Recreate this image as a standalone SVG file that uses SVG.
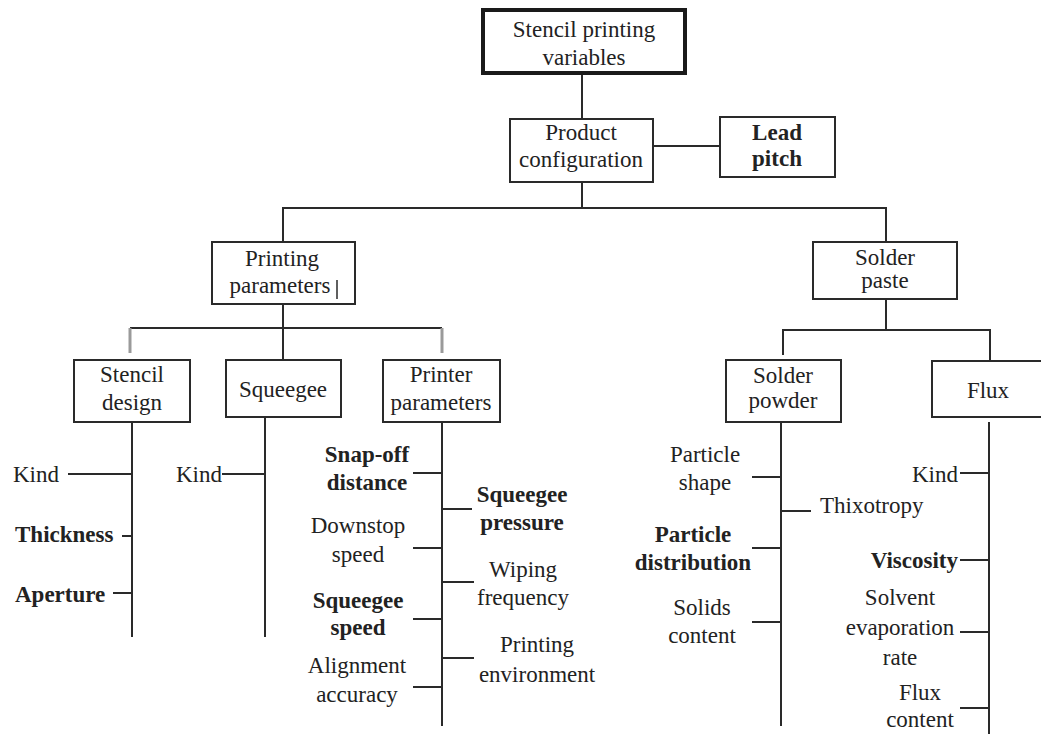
<svg xmlns="http://www.w3.org/2000/svg" width="1041" height="734" viewBox="0 0 1041 734">
<style>
.bg{fill:#fff}
.box{fill:#fff;stroke:#2a2a2a;stroke-width:2}
.root{fill:#fff;stroke:#1a1a1a;stroke-width:4}
.ln{stroke:#2a2a2a;stroke-width:2;fill:none}
.gr{stroke:#9a9a9a;stroke-width:3;fill:none}
text{font-family:'Liberation Serif','DejaVu Serif',serif;font-size:23px;fill:#222}
.m{text-anchor:middle}
.e{text-anchor:end}
.b{font-weight:bold}
</style>
<rect class="bg" x="0" y="0" width="1041" height="734"/>
<g id="connectors">
<line class="ln" x1="582" y1="73" x2="582" y2="119"/>
<line class="ln" x1="653" y1="146" x2="720" y2="146"/>
<polyline class="ln" points="582,182 582,208"/>
<polyline class="ln" points="283,242 283,208 886,208 886,242"/>
<line class="ln" x1="283" y1="304" x2="283" y2="360"/>
<line class="ln" x1="130" y1="328" x2="442" y2="328"/>
<line class="gr" x1="130" y1="328" x2="130" y2="353"/>
<line class="gr" x1="442" y1="328" x2="442" y2="353"/>
<line class="ln" x1="886" y1="299" x2="886" y2="330"/>
<polyline class="ln" points="783,355 783,330 990,330 990,361"/>
<line class="ln" x1="132" y1="422" x2="132" y2="637"/>
<line class="ln" x1="68" y1="474" x2="132" y2="474"/>
<line class="ln" x1="122" y1="536" x2="132" y2="536"/>
<line class="ln" x1="113" y1="593" x2="132" y2="593"/>
<line class="ln" x1="265" y1="417" x2="265" y2="637"/>
<line class="ln" x1="222" y1="474" x2="265" y2="474"/>
<line class="ln" x1="442" y1="422" x2="442" y2="726"/>
<line class="ln" x1="413" y1="473" x2="442" y2="473"/>
<line class="ln" x1="442" y1="509" x2="472" y2="509"/>
<line class="ln" x1="413" y1="548" x2="442" y2="548"/>
<line class="ln" x1="442" y1="582" x2="474" y2="582"/>
<line class="ln" x1="413" y1="619" x2="442" y2="619"/>
<line class="ln" x1="442" y1="658" x2="474" y2="658"/>
<line class="ln" x1="413" y1="687" x2="442" y2="687"/>
<line class="ln" x1="781" y1="422" x2="781" y2="726"/>
<line class="ln" x1="752" y1="477" x2="781" y2="477"/>
<line class="ln" x1="781" y1="511" x2="811" y2="511"/>
<line class="ln" x1="752" y1="548" x2="781" y2="548"/>
<line class="ln" x1="752" y1="622" x2="781" y2="622"/>
<line class="ln" x1="989" y1="422" x2="989" y2="734"/>
<line class="ln" x1="960" y1="473" x2="989" y2="473"/>
<line class="ln" x1="960" y1="560" x2="989" y2="560"/>
<line class="ln" x1="960" y1="632" x2="989" y2="632"/>
<line class="ln" x1="960" y1="708" x2="989" y2="708"/>
</g>
<g id="stencil-printing-variables">
<rect class="root" x="483" y="10" width="202" height="63"/>
<text class="m" x="584" y="37">Stencil printing</text>
<text class="m" x="584" y="65">variables</text>
</g>
<g id="product-configuration">
<rect class="box" x="510" y="119" width="143" height="63"/>
<text class="m" x="581" y="140">Product</text>
<text class="m" x="581" y="167">configuration</text>
</g>
<g id="lead-pitch">
<rect class="box" x="720" y="117" width="115" height="60"/>
<text class="m b" x="777" y="140">Lead</text>
<text class="m b" x="777" y="166">pitch</text>
</g>
<g id="printing-parameters">
<rect class="box" x="212" y="242" width="143" height="62"/>
<text class="m" x="282" y="266">Printing</text>
<text class="m" x="280" y="293">parameters</text>
<line class="ln" x1="337" y1="280" x2="337" y2="299" style="stroke-width:1.5"/>
</g>
<g id="solder-paste">
<rect class="box" x="813" y="242" width="144" height="57"/>
<text class="m" x="885" y="265">Solder</text>
<text class="m" x="885" y="288">paste</text>
</g>
<g id="stencil-design">
<rect class="box" x="74" y="360" width="116" height="62"/>
<text class="m" x="132" y="382">Stencil</text>
<text class="m" x="132" y="410">design</text>
<text x="13" y="482">Kind</text>
<text class="b" x="15" y="542">Thickness</text>
<text class="b" x="15" y="602">Aperture</text>
</g>
<g id="squeegee">
<rect class="box" x="226" y="360" width="115" height="57"/>
<text class="m" x="283" y="397">Squeegee</text>
<text class="e" x="222" y="482">Kind</text>
</g>
<g id="printer-parameters">
<rect class="box" x="383" y="360" width="117" height="62"/>
<text class="m" x="441" y="382">Printer</text>
<text class="m" x="441" y="410">parameters</text>
<text class="m b" x="367" y="462">Snap-off</text>
<text class="m b" x="367" y="490">distance</text>
<text class="m b" x="522" y="502">Squeegee</text>
<text class="m b" x="522" y="530">pressure</text>
<text class="m" x="358" y="533">Downstop</text>
<text class="m" x="358" y="562">speed</text>
<text class="m" x="523" y="577">Wiping</text>
<text class="m" x="523" y="605">frequency</text>
<text class="m b" x="358" y="608">Squeegee</text>
<text class="m b" x="358" y="635">speed</text>
<text class="m" x="537" y="652">Printing</text>
<text class="m" x="537" y="682">environment</text>
<text class="m" x="357" y="673">Alignment</text>
<text class="m" x="357" y="702">accuracy</text>
</g>
<g id="solder-powder">
<rect class="box" x="726" y="360" width="115" height="62"/>
<text class="m" x="783" y="383">Solder</text>
<text class="m" x="783" y="408">powder</text>
<text class="m" x="705" y="462">Particle</text>
<text class="m" x="705" y="490">shape</text>
<text x="820" y="513">Thixotropy</text>
<text class="m b" x="693" y="542">Particle</text>
<text class="m b" x="693" y="570">distribution</text>
<text class="m" x="702" y="615">Solids</text>
<text class="m" x="702" y="643">content</text>
</g>
<g id="flux">
<rect class="box" x="932" y="361" width="110" height="56"/>
<text class="m" x="988" y="398">Flux</text>
<text class="e" x="958" y="482">Kind</text>
<text class="e b" x="958" y="568">Viscosity</text>
<text class="m" x="900" y="605">Solvent</text>
<text class="m" x="900" y="635">evaporation</text>
<text class="m" x="900" y="665">rate</text>
<text class="m" x="920" y="700">Flux</text>
<text class="m" x="920" y="727">content</text>
</g>
</svg>
